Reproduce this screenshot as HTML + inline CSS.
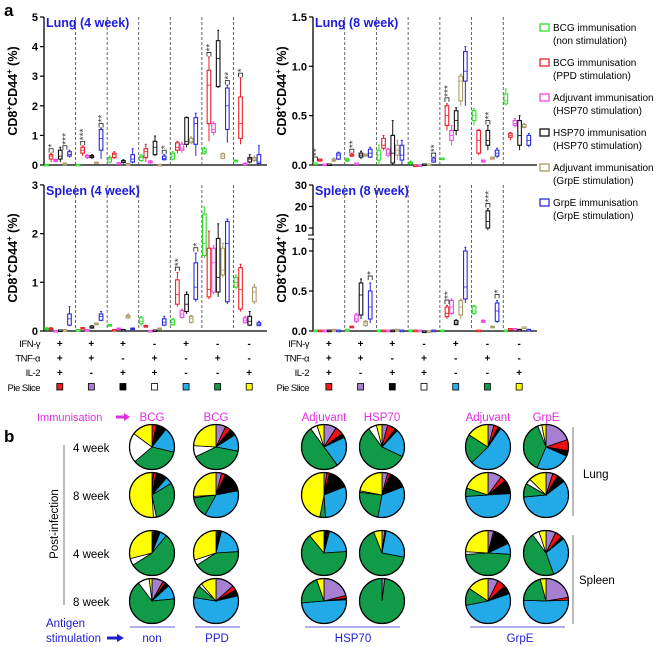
<!DOCTYPE html>
<html><head><meta charset="utf-8"><style>
body{margin:0;background:#fff}
svg{display:block;font-family:"Liberation Sans",Arial,sans-serif}
</style></head><body>
<svg id="fig" width="660" height="647" viewBox="0 0 660 647" xmlns="http://www.w3.org/2000/svg"></svg>
<script>
// ---- data: box plots [min,q1,median,q3,max], series order: green, red, magenta, black, tan, blue
const seriesNames=["BCG immunisation (non stimulation)","BCG immunisation (PPD stimulation)","Adjuvant immunisation (HSP70 stimulation)","HSP70 immunisation (HSP70 stimulation)","Adjuvant immunisation (GrpE stimulation)","GrpE immunisation (GrpE stimulation)"];
const lung4=[
[[0.02,0.02,0.02,0.02,0.02],[0.1,0.2,0.3,0.35,0.4],[0.1,0.12,0.15,0.18,0.2],[0.1,0.2,0.3,0.5,0.6],[0.03,0.04,0.05,0.06,0.07],[0.25,0.3,0.35,0.45,0.5]],
[[0.02,0.02,0.02,0.02,0.02],[0.3,0.4,0.5,0.6,0.65],[0.2,0.25,0.3,0.32,0.35],[0.2,0.25,0.28,0.32,0.35],[0.05,0.07,0.08,0.09,0.1],[0.2,0.5,0.9,1.2,1.25]],
[[0.05,0.1,0.2,0.25,0.3],[0.2,0.25,0.35,0.4,0.45],[0.03,0.05,0.06,0.07,0.08],[0.05,0.08,0.1,0.15,0.18],[0.02,0.03,0.04,0.05,0.06],[0.05,0.1,0.2,0.35,0.55]],
[[0.1,0.15,0.25,0.3,0.35],[0.1,0.25,0.45,0.55,0.7],[0.05,0.07,0.1,0.13,0.15],[0.3,0.35,0.6,0.8,0.98],[0.02,0.02,0.02,0.02,0.02],[0.15,0.18,0.22,0.3,0.35]],
[[0.15,0.2,0.3,0.4,0.45],[0.4,0.5,0.6,0.75,0.8],[0.4,0.5,0.55,0.7,0.75],[0.6,0.7,0.8,1.6,1.62],[0.7,0.75,0.8,0.9,0.95],[0.3,0.7,1.4,1.6,1.75]],
[[0.35,0.4,0.45,0.55,0.6],[0.8,1.4,2.7,3.2,3.65],[1.0,1.1,1.2,1.4,1.45],[2.6,2.65,3.6,4.2,4.55],[0.2,0.22,0.3,0.38,0.4],[0.75,1.2,2.0,2.6,2.7]],
[[0.12,0.14,0.15,0.16,0.17],[0.7,0.9,1.4,2.3,2.95],[0.03,0.04,0.05,0.06,0.07],[0.05,0.1,0.2,0.25,0.35],[0.1,0.15,0.2,0.25,0.3],[0.05,0.05,0.1,0.35,0.65]]];
const spleen4=[
[[0.03,0.04,0.05,0.06,0.07],[0.03,0.04,0.05,0.06,0.07],[0.01,0.01,0.01,0.01,0.01],[0.02,0.02,0.02,0.02,0.02],[0.03,0.03,0.03,0.03,0.03],[0.1,0.12,0.25,0.35,0.5]],
[[0.03,0.03,0.03,0.03,0.03],[0.05,0.05,0.06,0.07,0.07],[0.03,0.03,0.03,0.03,0.03],[0.05,0.06,0.07,0.1,0.11],[0.14,0.14,0.15,0.16,0.16],[0.2,0.22,0.3,0.35,0.4]],
[[0.11,0.11,0.12,0.13,0.13],[0.03,0.03,0.03,0.03,0.03],[0.04,0.04,0.05,0.06,0.06],[0.03,0.03,0.03,0.03,0.03],[0.25,0.27,0.3,0.32,0.35],[0.04,0.04,0.05,0.06,0.06]],
[[0.1,0.15,0.2,0.27,0.3],[0.08,0.09,0.1,0.11,0.12],[0.01,0.01,0.01,0.01,0.01],[0.02,0.02,0.02,0.02,0.02],[0.04,0.04,0.05,0.06,0.06],[0.1,0.12,0.18,0.25,0.3]],
[[0.1,0.13,0.18,0.23,0.26],[0.5,0.55,0.75,1.05,1.2],[0.25,0.28,0.35,0.42,0.45],[0.35,0.4,0.55,0.75,0.8],[0.15,0.18,0.25,0.3,0.32],[0.6,0.65,0.9,1.4,1.6]],
[[1.5,1.55,1.8,2.4,2.55],[0.65,0.7,0.85,1.7,2.05],[0.75,0.8,1.4,1.7,1.75],[0.7,0.8,1.1,1.9,2.2],[1.1,1.15,1.25,1.7,1.8],[0.55,0.6,1.8,2.25,2.3]],
[[0.85,0.9,1.0,1.1,1.15],[0.4,0.45,0.85,1.3,1.37],[0.15,0.17,0.22,0.27,0.3],[0.1,0.12,0.2,0.3,0.4],[0.55,0.6,0.8,0.9,0.95],[0.1,0.11,0.14,0.17,0.2]]];
const lung8=[
[[0.02,0.02,0.02,0.02,0.02],[0.04,0.04,0.05,0.06,0.06],[0.01,0.01,0.01,0.01,0.01],[0.01,0.01,0.01,0.01,0.01],[0.03,0.04,0.05,0.06,0.07],[0.05,0.06,0.1,0.12,0.13]],
[[0.03,0.04,0.05,0.06,0.07],[0.08,0.09,0.1,0.11,0.12],[0.02,0.02,0.02,0.02,0.02],[0.06,0.08,0.1,0.12,0.14],[0.09,0.09,0.1,0.11,0.11],[0.07,0.08,0.12,0.16,0.18]],
[[0.0,0.05,0.1,0.15,0.2],[0.15,0.17,0.2,0.27,0.3],[0.08,0.1,0.12,0.16,0.17],[0.0,0.02,0.12,0.3,0.45],[0.05,0.1,0.15,0.2,0.25],[0.0,0.05,0.1,0.2,0.25]],
[[0.0,0.01,0.02,0.03,0.04],[0.0,0.0,0.0,0.0,0.0],[0.0,0.0,0.0,0.0,0.0],[0.01,0.01,0.01,0.01,0.01],[0.01,0.01,0.01,0.01,0.01],[0.02,0.03,0.05,0.07,0.08]],
[[0.07,0.07,0.07,0.07,0.07],[0.35,0.4,0.5,0.6,0.62],[0.2,0.25,0.3,0.35,0.4],[0.3,0.35,0.45,0.55,0.58],[0.6,0.65,0.85,0.9,0.92],[0.6,0.85,0.95,1.15,1.2]],
[[0.4,0.45,0.5,0.55,0.57],[0.1,0.12,0.25,0.35,0.36],[0.03,0.03,0.04,0.05,0.05],[0.15,0.2,0.25,0.35,0.4],[0.06,0.06,0.07,0.08,0.08],[0.07,0.09,0.12,0.15,0.17]],
[[0.6,0.62,0.65,0.72,0.77],[0.25,0.28,0.3,0.32,0.33],[0.38,0.4,0.42,0.45,0.47],[0.15,0.2,0.3,0.45,0.5],[0.37,0.38,0.39,0.41,0.42],[0.18,0.2,0.25,0.3,0.32]]];
const spleen8=[
[[0.01,0.01,0.01,0.01,0.01],[0.01,0.01,0.01,0.01,0.01],[0.01,0.01,0.01,0.01,0.01],[0.01,0.01,0.01,0.01,0.01],[0.02,0.02,0.02,0.02,0.02],[0.01,0.01,0.01,0.01,0.01]],
[[0.02,0.02,0.02,0.02,0.02],[0.04,0.04,0.05,0.06,0.06],[0.1,0.12,0.15,0.2,0.22],[0.15,0.2,0.45,0.6,0.65],[0.05,0.07,0.1,0.12,0.13],[0.1,0.15,0.3,0.5,0.6]],
[[0.01,0.01,0.01,0.01,0.01],[0.01,0.01,0.01,0.01,0.01],[0.01,0.01,0.01,0.01,0.01],[0.01,0.01,0.01,0.01,0.01],[0.02,0.02,0.02,0.02,0.02],[0.01,0.01,0.01,0.01,0.01]],
[[0.01,0.01,0.01,0.01,0.01],[0.01,0.01,0.01,0.01,0.01],[0.01,0.01,0.01,0.01,0.01],[0.0,0.0,0.0,0.0,0.0],[0.0,0.0,0.0,0.0,0.0],[0.01,0.01,0.01,0.01,0.01]],
[[0.01,0.01,0.01,0.01,0.01],[0.15,0.18,0.22,0.3,0.32],[0.2,0.22,0.3,0.38,0.4],[0.07,0.08,0.1,0.13,0.14],[0.15,0.2,0.3,0.38,0.4],[0.35,0.4,0.55,1.0,1.05]],
[[0.2,0.22,0.25,0.31,0.32],[0.01,0.01,0.01,0.01,0.01],[0.1,0.11,0.12,0.13,0.14],[9,10,13,18,19],[0.04,0.04,0.05,0.06,0.06],[0.1,0.12,0.25,0.35,0.38]],
[[0.01,0.01,0.01,0.01,0.01],[0.03,0.03,0.03,0.03,0.03],[0.03,0.03,0.03,0.03,0.03],[0.02,0.02,0.02,0.02,0.02],[0.05,0.05,0.05,0.05,0.05],[0.02,0.02,0.02,0.02,0.02]]];
// significance stars: [group, seriesIndex (placed over), text, value]
const lung4Stars=[[0,1,"*",0.45],[0,4,"***",0.55],[1,1,"***",0.7],[1,5,"**",1.3],[3,5,"*",0.4],[5,1,"**",3.7],[5,5,"**",2.75],[6,1,"*",3.0]];
const lung8Stars=[[0,0,"**",0.05],[1,1,"**",0.13],[3,5,"**",0.09],[4,1,"***",0.65],[5,3,"**",0.42]];
const spleen4Stars=[[4,1,"**",1.25],[4,5,"*",1.65]];
const spleen8Stars=[[1,5,"*",0.65],[4,1,"**",0.35],[5,3,"***",20],[5,5,"*",0.42]];
const ifn=["+","+","+","-","+","-","-"];
const tnf=["+","+","-","+","-","+","-"];
const il2=["+","-","+","+","-","-","+"];
const sliceCols=["#ee1c1c","#a77fd0","#000000","#ffffff","#2aaee8","#119a47","#ffff00"];
// pie fractions order: purple, red, black, blue, green, white, yellow (clockwise from 12)
const pieCols=["#a77fd0","#ee1111","#000000","#22aae6","#119a47","#ffffff","#ffff00"];
const pieColumns=["BCG","BCG","Adjuvant","HSP70","Adjuvant","GrpE"];
const pieRows=["4 week","8 week","4 week","8 week"];
const pies=[
[[0.0,0.03,0.07,0.17,0.33,0.2,0.14],[0.07,0.04,0.05,0.12,0.4,0.08,0.24],[0.09,0.06,0.03,0.22,0.5,0.05,0.05],[0.04,0.06,0.02,0.2,0.58,0.06,0.04],[0.04,0.03,0.02,0.5,0.2,0,0.15],[0.2,0.08,0.04,0.25,0.38,0.03,0.03]],
[[0.01,0.02,0.08,0.05,0.3,0.02,0.5],[0.04,0.03,0.15,0.36,0.15,0.01,0.26],[0.02,0.02,0.15,0.3,0.04,0,0.47],[0.04,0.02,0.13,0.34,0.24,0.01,0.22],[0.1,0.04,0.1,0.5,0.06,0,0.2],[0.05,0.04,0.06,0.6,0.1,0.04,0.13]],
[[0.01,0.01,0.04,0.05,0.55,0.05,0.29],[0.01,0.01,0.02,0.2,0.42,0.04,0.3],[0.01,0,0.03,0.2,0.65,0,0.11],[0.02,0.01,0,0.25,0.66,0,0.06],[0.04,0.01,0.13,0.08,0.48,0.02,0.24],[0.07,0.05,0.02,0.3,0.45,0.05,0.05]],
[[0.08,0.02,0.03,0.1,0.65,0.08,0.02],[0.12,0.03,0.04,0.5,0.08,0.02,0.1],[0.2,0.02,0.01,0.47,0.2,0,0.05],[0.02,0,0,0,0.98,0,0],[0.07,0.06,0.06,0.5,0.12,0,0.15],[0.22,0.02,0,0.5,0.2,0,0.04]]];
</script>
<script>
const S=document.getElementById('fig');
const NS="http://www.w3.org/2000/svg";
function mk(tag,at,parent){const e=document.createElementNS(NS,tag);for(const k in at)e.setAttribute(k,at[k]);(parent||S).appendChild(e);return e;}
function txt(x,y,s,at,parent){const e=mk('text',Object.assign({x:x,y:y},at||{}),parent);e.textContent=s;return e;}
const boxCols=["#2edc2e","#e8232a","#ee44e8","#111111","#a89a6a","#2a2ae0"];

function panel(cfg){
  const g=mk('g',{});
  
  
  const X0=cfg.x0,X1=cfg.x1,Y0=cfg.y0;
  const gw=(X1-X0)/7;
  const ax=mk('line',{x1:X0,y1:cfg.yTop,x2:X0,y2:Y0,stroke:'#000','stroke-width':1.3},g);
  
  const xa=mk('line',{x1:X0,y1:Y0,x2:X1+2,y2:Y0,stroke:'#000','stroke-width':1.3},g);
  
  cfg.ticks.forEach(t=>{const y=cfg.scale(t[0]);
    mk('line',{x1:X0-4,y1:y,x2:X0,y2:y,stroke:'#000','stroke-width':1.2},g);
    const tl=txt(X0-6,y+4,t[1],{'text-anchor':'end','font-size':11,'font-weight':'bold'},g);
    });
  if(cfg.brk){mk('rect',{x:X0-3,y:cfg.brk-2,width:6,height:4,fill:'#fff'},g);
    mk('line',{x1:X0-5,y1:cfg.brk-2,x2:X0+1,y2:cfg.brk-2,stroke:'#000'},g);
    mk('line',{x1:X0-5,y1:cfg.brk+2,x2:X0+1,y2:cfg.brk+2,stroke:'#000'},g);}
  for(let i=1;i<7;i++){const x=X0+gw*i;
    mk('line',{x1:x,y1:cfg.yTop,x2:x,y2:Y0,stroke:'#555','stroke-width':0.9,'stroke-dasharray':'3,2'},g);}
  const tt=txt(X0+2,cfg.yTop+10,cfg.title,{fill:'#1c1cdc','font-size':12.5,'font-weight':'bold'},g);
  
  const yt=txt(0,0,'',{transform:`translate(${X0-27},${(cfg.yTop+Y0)/2}) rotate(-90)`,'text-anchor':'middle','font-size':12.5,'font-weight':'bold'},g);
  yt.innerHTML='CD8<tspan dy="-5" font-size="8">+</tspan><tspan dy="5">CD44</tspan><tspan dy="-5" font-size="8">+</tspan><tspan dy="5"> (%)</tspan>';
  
  cfg.data.forEach((grp,gi)=>grp.forEach((b,si)=>{
    const x=X0+gi*gw+2.5+si*4.6, c=boxCols[si];
    const ymin=cfg.scale(b[0]),yq1=cfg.scale(b[1]),ym=cfg.scale(b[2]),yq3=cfg.scale(b[3]),ymax=cfg.scale(b[4]);
    const bg=mk('g',{},g);
    
    
    mk('line',{x1:x,y1:ymax,x2:x,y2:ymin,stroke:c,'stroke-width':1},bg);
    mk('line',{x1:x-1,y1:ymax,x2:x+1,y2:ymax,stroke:c,'stroke-width':1},bg);
    mk('rect',{x:x-1.8,y:yq3,width:3.6,height:Math.max(1.5,yq1-yq3),fill:'#fff',stroke:c,'stroke-width':1.1},bg);
    mk('line',{x1:x-1.8,y1:ym,x2:x+1.8,y2:ym,stroke:c,'stroke-width':0.8},bg);
  }));
  cfg.stars.forEach(s=>{const x=X0+s[0]*gw+2.5+s[1]*4.6;const y=cfg.scale(s[3])-3;
    mk('path',{d:`M${x-2} ${y+4}V${y}H${x+2}V${y+4}`,fill:'none',stroke:'#333','stroke-width':0.9},g);
    const st=txt(0,0,s[2],{transform:`translate(${x+4},${y-1}) rotate(-90)`,'font-size':10,fill:'#444'},g);
    });
  if(cfg.rows){
    const rl=[["IFN-γ",ifn],["TNF-α",tnf],["IL-2",il2]];
    rl.forEach((r,ri)=>{const y=cfg.y0+16+ri*14.5;
      const l=txt(X0-4,y,r[0],{'text-anchor':'end','font-size':9.5,'letter-spacing':'-0.5'},g);
      
      r[1].forEach((v,i)=>{const t=txt(X0+gw*(i+0.5),y,v,{'text-anchor':'middle','font-size':10,'font-weight':'bold'},g);
        });});
    const y=cfg.y0+60;
    const pl=txt(X0-4,y,"Pie Slice",{'text-anchor':'end','font-size':9.5,'letter-spacing':'-0.5'},g);
    
    sliceCols.forEach((c,i)=>{const r=mk('rect',{x:X0+gw*(i+0.5)-3,y:y-7.5,width:6,height:6.5,fill:c,stroke:'#000','stroke-width':0.8},g);
      });
  }
}
txt(4,16,"a",{'font-size':17,'font-weight':'bold'});
panel({name:'lung-4-week-chart',short:'l4',title:'Lung (4 week)',x0:44,x1:265,yTop:17,y0:165,scale:v=>165-v*29.6,
  ticks:[[0,'0'],[1,'1'],[2,'2'],[3,'3'],[4,'4'],[5,'5']],data:lung4,stars:lung4Stars});
panel({name:'spleen-4-week-chart',short:'s4',title:'Spleen (4 week)',x0:44,x1:265,yTop:185,y0:331,scale:v=>331-v*48.7,
  ticks:[[0,'0'],[1,'1'],[2,'2'],[3,'3']],data:spleen4,stars:spleen4Stars,rows:true});
panel({name:'lung-8-week-chart',short:'l8',title:'Lung (8 week)',x0:313,x1:535,yTop:17,y0:165,scale:v=>165-v*98.7,
  ticks:[[0,'0.0'],[0.5,'0.5'],[1,'1.0'],[1.5,'1.5']],data:lung8,stars:lung8Stars});
panel({name:'spleen-8-week-chart',short:'s8',title:'Spleen (8 week)',x0:313,x1:535,yTop:185,y0:331,brk:237,
  scale:v=>v<=1?331-v*80:228-(v-10)*2.15,
  ticks:[[0,'0.0'],[0.5,'0.5'],[1,'1.0'],[10,'10'],[20,'20'],[30,'30']],data:spleen8,stars:spleen8Stars,rows:true});
const lg=mk('g',{});
seriesNames.forEach((n,i)=>{const y=31+i*35;
  const e=mk('g',{},lg);
  mk('rect',{x:540,y:y-7,width:9,height:7,fill:'#fff',stroke:boxCols[i],'stroke-width':1.3},e);
  const p=n.indexOf(' (');
  txt(553,y,n.slice(0,p),{'font-size':10},e);txt(553,y+13,n.slice(p+1),{'font-size':10},e);});
txt(4,442,"b",{'font-size':17,'font-weight':'bold'});
const imm=txt(37,421,"Immunisation",{'font-size':11,fill:'#e030e0'});
mk('path',{d:'M116 417H125',stroke:'#e030e0','stroke-width':3});mk('path',{d:'M124 413L130 417L124 421Z',fill:'#e030e0'});
const colX=[152,216,324,382,488,546];
const rowY=[447,495,553,601];
pieColumns.forEach((c,i)=>{const t=txt(colX[i],421,c,{'text-anchor':'middle','font-size':11.5,fill:'#e030e0'});
  });
pieRows.forEach((r,i)=>{const t=txt(73,rowY[i]+5,r,{'font-size':11.5});});
mk('line',{x1:64,y1:445,x2:64,y2:605,stroke:'#777','stroke-width':1});
const pi=txt(0,0,"Post-infection",{transform:'translate(58,524) rotate(-90)','text-anchor':'middle','font-size':11.5});

const R=22.5;
pies.forEach((row,ri)=>row.forEach((fr,ci)=>{
  const cx=colX[ci],cy=rowY[ri];const tot=fr.reduce((a,b)=>a+b,0);
  const pg=mk('g',{});
  let a=0;
  fr.forEach((f,k)=>{if(f<=0)return;const a2=a+f/tot*2*Math.PI;
    const x1=cx+R*Math.sin(a),y1=cy-R*Math.cos(a),x2=cx+R*Math.sin(a2),y2=cy-R*Math.cos(a2);
    const large=(a2-a)>Math.PI?1:0;
    const s=mk('path',{d:`M${cx} ${cy}L${x1} ${y1}A${R} ${R} 0 ${large} 1 ${x2} ${y2}Z`,fill:pieCols[k],stroke:'#000','stroke-width':0.8},pg);
    
    a=a2;});
  mk('circle',{cx:cx,cy:cy,r:R,fill:'none',stroke:'#000','stroke-width':1.2},pg);
}));
mk('line',{x1:573,y1:427,x2:573,y2:516,stroke:'#777','stroke-width':1});
mk('line',{x1:573,y1:535,x2:573,y2:624,stroke:'#777','stroke-width':1});
txt(583,478,"Lung",{'font-size':11.5});
txt(579,584,"Spleen",{'font-size':11.5});
const as=txt(46,627,"Antigen",{'font-size':11.5,fill:'#2020d0'});
txt(46,642,"stimulation",{'font-size':11.5,fill:'#2020d0'});
mk('path',{d:'M107 638H118',stroke:'#2020d0','stroke-width':3});mk('path',{d:'M117 634L124 638L117 642Z',fill:'#2020d0'});
[[130,175,152,"non"],[195,240,217,"PPD"],[305,400,353,"HSP70"],[470,565,520,"GrpE"]].forEach(s=>{
  mk('line',{x1:s[0],y1:627,x2:s[1],y2:627,stroke:'#6060e0','stroke-width':1});
  const t=txt(s[2],642,s[3],{'text-anchor':'middle','font-size':11.5,fill:'#2020d0'});
  });
</script>
</body></html>
